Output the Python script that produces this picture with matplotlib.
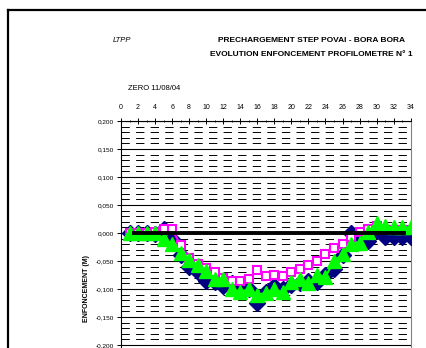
import matplotlib
matplotlib.use("Agg")
import matplotlib.pyplot as plt
from matplotlib.lines import Line2D
from matplotlib.ticker import MultipleLocator, FuncFormatter

plt.rcParams['font.family'] = ['Liberation Sans', 'DejaVu Sans']
plt.rcParams['lines.scale_dashes'] = False

# ---- data ----
x = list(range(1, 35))
navy = [0.000, 0.000, 0.000, -0.002, 0.008, -0.010, -0.040, -0.060, -0.070, -0.085,
        -0.088, -0.095, -0.090, -0.092, -0.100, -0.125, -0.105, -0.095, -0.100, -0.092,
        -0.090, -0.085, -0.088, -0.075, -0.065, -0.040, 0.000, -0.005, -0.015, 0.003,
        -0.008, -0.008, -0.008, -0.008]
magenta = [0.000, 0.000, 0.000, 0.002, 0.007, 0.007, -0.022, -0.045, -0.055, -0.062,
           -0.070, -0.080, -0.085, -0.085, -0.083, -0.066, -0.077, -0.075, -0.077, -0.070,
           -0.065, -0.057, -0.050, -0.038, -0.027, -0.020, -0.008, 0.002, 0.008, 0.012,
           0.005, 0.005, 0.005, 0.005]
green = [0.000, 0.000, 0.000, 0.000, -0.010, -0.020, -0.035, -0.048, -0.058, -0.067,
         -0.083, -0.082, -0.100, -0.105, -0.100, -0.110, -0.107, -0.100, -0.106, -0.088,
         -0.082, -0.090, -0.075, -0.078, -0.050, -0.038, -0.019, -0.017, 0.002, 0.018,
         0.012, 0.010, 0.010, 0.010]
zero_x = [1.25, 33.5]
zero_y = [0.0, 0.0]

x_ticks = list(range(0, 35, 2))
y_ticks = [0.20, 0.15, 0.10, 0.05, 0.0, -0.05, -0.10, -0.15, -0.20]

title_lines = ["PRECHARGEMENT STEP POVAI - BORA BORA",
               "EVOLUTION ENFONCEMENT PROFILOMETRE N° 1"]

W, H = 427, 348
fig = plt.figure(figsize=(W / 100, H / 100), dpi=100)
fig.patch.set_facecolor('white')

left, right, top, bottom = 121, 410.7, 121, 457
ax = fig.add_axes([left / W, 1 - bottom / H, (right - left) / W, (bottom - top) / H])
ax.set_xlim(0, 34)
ax.set_ylim(-0.40, 0.20)

# grid
ax.set_yticks(y_ticks)
ax.yaxis.set_minor_locator(MultipleLocator(0.01))
ax.grid(which='major', axis='y', color='black', linewidth=0.8, linestyle='-')
ax.grid(which='minor', axis='y', color='black', linewidth=0.7, linestyle=(0, (6, 4.5)))
ax.set_axisbelow(True)

ax.plot(x, navy, color='#000080', marker='D', markersize=8.5, linewidth=1.5, zorder=3)
ax.plot(x, magenta, color='#FF00FF', marker='s', markersize=5.5, markerfacecolor='white',
        markeredgewidth=1.5, linewidth=1.5, zorder=4)
ax.plot(x, green, color='#00FF00', marker='^', markersize=10.5, linewidth=1.5, zorder=5)
ax.plot(zero_x, zero_y, color='black', linewidth=2.8, solid_capstyle='butt', zorder=6)

# x axis at top
ax.xaxis.tick_top()
ax.set_xticks(x_ticks)
ax.xaxis.set_minor_locator(MultipleLocator(1))
ax.tick_params(axis='x', which='major', direction='inout', length=4, width=0.7,
               labelsize=5, pad=5, top=True, bottom=False)
ax.tick_params(axis='x', which='minor', direction='inout', length=2, width=0.6,
               top=True, bottom=False)
ax.tick_params(axis='y', which='major', direction='out', length=3, width=0.7,
               labelsize=4.6, pad=2)
ax.tick_params(axis='y', which='minor', length=0)
ax.yaxis.set_major_formatter(FuncFormatter(lambda v, p: ("%.3f" % v).replace('.', ',').replace('-0,000', '0,000')))

for s in ['left', 'top']:
    ax.spines[s].set_color('black')
    ax.spines[s].set_linewidth(0.8)
ax.spines['right'].set_color('#808080')
ax.spines['right'].set_linewidth(0.8)
ax.spines['bottom'].set_visible(False)

ax.set_ylabel("ENFONCEMENT (M)", fontsize=5, fontweight='bold', labelpad=4)

# texts
fig.text(122 / W, 1 - 41 / H, "LTPP", fontsize=5.5, style='italic', ha='center', va='center')
fig.text(311 / W, 1 - 41 / H, title_lines[0], fontsize=6, fontweight='bold', ha='center', va='center')
fig.text(311 / W, 1 - 55 / H, title_lines[1], fontsize=6, fontweight='bold', ha='center', va='center')
fig.text(154 / W, 1 - 88 / H, "ZERO 11/08/04", fontsize=5.5, ha='center', va='center')

# outer frame (top and left edges)
fig.add_artist(Line2D([8 / W, 1.0], [1 - 10 / H, 1 - 10 / H], color='black', linewidth=1.6,
                      transform=fig.transFigure))
fig.add_artist(Line2D([8 / W, 8 / W], [1 - 10 / H, 0], color='black', linewidth=1.6,
                      transform=fig.transFigure))

fig.savefig("out.png", dpi=100)
